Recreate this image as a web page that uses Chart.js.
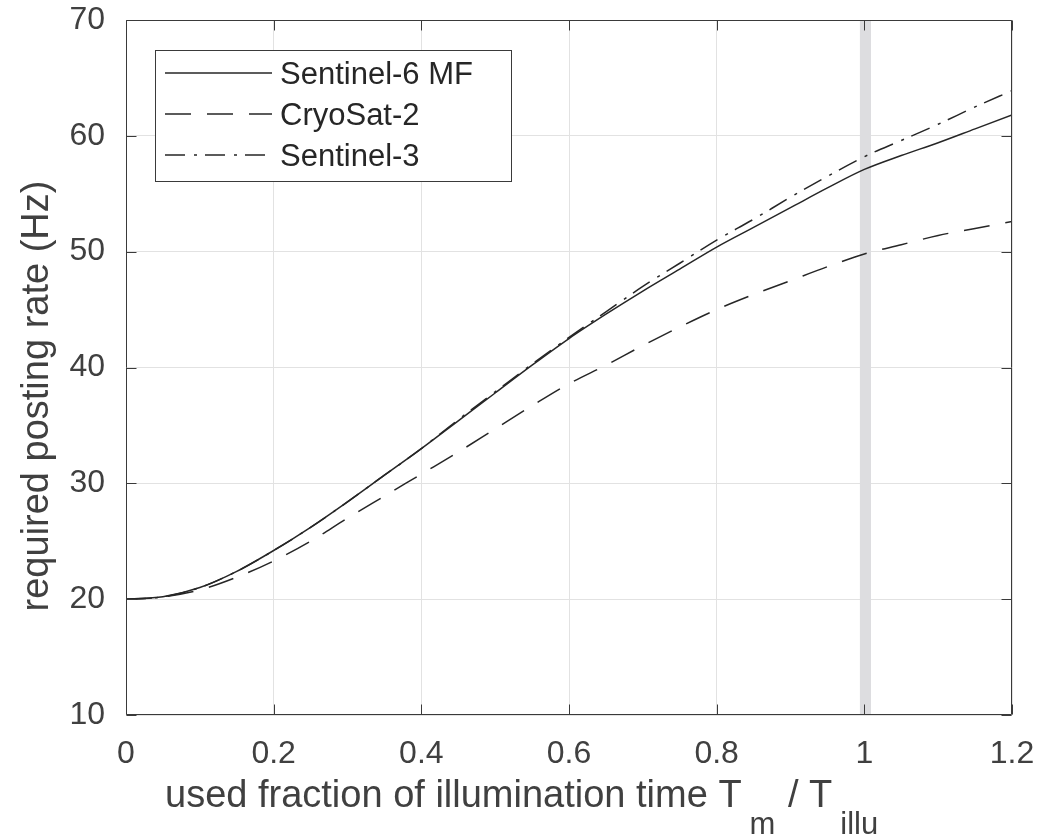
<!DOCTYPE html>
<html>
<head>
<meta charset="utf-8">
<title>Required posting rate</title>
<script src="https://cdn.jsdelivr.net/npm/chart.js@4.4.1/dist/chart.umd.min.js"></script>
<style>
  html, body { margin: 0; padding: 0; background: #ffffff; }
  #wrap { width: 1041px; height: 836px; }
</style>
</head>
<body>
<div id="wrap"><canvas id="c" width="1041" height="836"></canvas></div>
<script>
// Used fraction of illumination time (T_m / T_illu)
const fractions = [0, 0.05, 0.1, 0.15, 0.2, 0.25, 0.3, 0.35, 0.4, 0.45, 0.5, 0.55, 0.6,
                   0.65, 0.7, 0.75, 0.8, 0.85, 0.9, 0.95, 1.0, 1.05, 1.1, 1.15, 1.2];

// Required posting rate (Hz) per mission
const sentinel6 = [20.0, 20.2, 21.0, 22.4, 24.2, 26.2, 28.4, 30.7, 33.0, 35.4, 37.8, 40.2, 42.5,
                   44.6, 46.6, 48.5, 50.4, 52.1, 53.8, 55.5, 57.1, 58.3, 59.4, 60.6, 61.8];
const cryosat2  = [20.0, 20.2, 20.8, 21.9, 23.3, 25.0, 27.0, 28.9, 30.8, 32.7, 34.7, 36.7, 38.6,
                   40.2, 41.9, 43.5, 45.0, 46.3, 47.5, 48.7, 49.8, 50.6, 51.4, 52.0, 52.6];
const sentinel3 = [20.0, 20.2, 21.0, 22.4, 24.2, 26.2, 28.4, 30.7, 33.0, 35.5, 37.9, 40.3, 42.6,
                   44.8, 47.0, 49.0, 51.0, 52.8, 54.7, 56.5, 58.2, 59.6, 61.0, 62.5, 63.9];

const seriesNames = ['Sentinel-6 MF', 'CryoSat-2', 'Sentinel-3'];

const xTicks = [0, 0.2, 0.4, 0.6, 0.8, 1, 1.2];
const xTickLabels = ['0', '0.2', '0.4', '0.6', '0.8', '1', '1.2'];
const yTicks = [10, 20, 30, 40, 50, 60, 70];
const yTickLabels = ['10', '20', '30', '40', '50', '60', '70'];

// Shaded band marking T_m = T_illu
const illuminationBand = [0.994, 1.009];

const yTitle = 'required posting rate (Hz)';
// [text, isSubscript]
const xTitleParts = [['used fraction of illumination time T', false], ['m', true], [' / T', false], ['illu', true]];

const FONT = '"Liberation Sans", Arial, Helvetica, sans-serif';
const TEXT = '#404040';
const INK = '#262626';

const toPoints = ys => fractions.map((f, i) => ({ x: f, y: ys[i] }));

// keep the plot box at a fixed place: no extra room for overhanging tick labels
const noOverhang = s => { s.paddingLeft = 0; s.paddingRight = 0; s.paddingTop = 0; s.paddingBottom = 0; };

const boxPlugin = {
  id: 'matlabBox',
  beforeDatasetsDraw(chart) {
    const { ctx, chartArea: a, scales: { x } } = chart;
    const x0 = x.getPixelForValue(illuminationBand[0]);
    const x1 = x.getPixelForValue(illuminationBand[1]);
    ctx.save();
    ctx.fillStyle = '#dddde0';
    ctx.fillRect(x0, a.top, x1 - x0, a.bottom - a.top);
    ctx.restore();
  },
  afterDatasetsDraw(chart) {
    const { ctx, chartArea: a, scales: { x, y } } = chart;
    const L = Math.round(a.left) + 0.5, R = Math.round(a.right) - 0.5;
    const T = Math.round(a.top) + 0.5, B = Math.round(a.bottom) - 0.5;
    const tl = 10;
    ctx.save();
    ctx.strokeStyle = '#3a3a3a';
    ctx.lineWidth = 1;
    ctx.setLineDash([]);
    ctx.beginPath();
    ctx.rect(L, T, R - L, B - T);
    x.ticks.forEach(t => {
      const px = Math.round(x.getPixelForValue(t.value)) + 0.5;
      ctx.moveTo(px, B); ctx.lineTo(px, B - tl);
      ctx.moveTo(px, T); ctx.lineTo(px, T + tl);
    });
    y.ticks.forEach(t => {
      const py = Math.round(y.getPixelForValue(t.value)) + 0.5;
      ctx.moveTo(L, py); ctx.lineTo(L + tl, py);
      ctx.moveTo(R, py); ctx.lineTo(R - tl, py);
    });
    ctx.stroke();
    ctx.restore();
  },
  afterDraw(chart) {
    const { ctx } = chart;
    ctx.save();

    // legend
    ctx.fillStyle = '#ffffff';
    ctx.fillRect(155.5, 50.5, 356, 131);
    ctx.strokeStyle = '#3a3a3a';
    ctx.lineWidth = 1;
    ctx.strokeRect(155.5, 50.5, 356, 131);
    const rows = [73, 114, 155];
    chart.data.datasets.forEach((ds, i) => {
      ctx.strokeStyle = ds.borderColor;
      ctx.lineWidth = ds.borderWidth;
      ctx.setLineDash(ds.borderDash || []);
      ctx.beginPath();
      ctx.moveTo(165, rows[i]);
      ctx.lineTo(272, rows[i]);
      ctx.stroke();
      ctx.setLineDash([]);
      ctx.fillStyle = INK;
      ctx.font = '31px ' + FONT;
      ctx.textAlign = 'left';
      ctx.textBaseline = 'middle';
      ctx.fillText(ds.label, 280, rows[i] + 2);
    });

    // y axis title
    ctx.fillStyle = TEXT;
    ctx.font = '38px ' + FONT;
    ctx.save();
    ctx.translate(48, 396);
    ctx.rotate(-Math.PI / 2);
    ctx.textAlign = 'center';
    ctx.textBaseline = 'alphabetic';
    ctx.fillText(yTitle, 0, 0);
    ctx.restore();

    // x axis title with subscripts
    let cx = 165;
    const base = 807;
    ctx.textAlign = 'left';
    ctx.textBaseline = 'alphabetic';
    xTitleParts.forEach(([txt, sub]) => {
      ctx.font = (sub ? '31px ' : '38px ') + FONT;
      if (sub) cx += 8;
      ctx.fillText(txt, cx, sub ? base + 27 : base);
      cx += ctx.measureText(txt).width + (sub ? 2 : 0);
    });
    ctx.restore();
  }
};

new Chart(document.getElementById('c'), {
  type: 'line',
  data: {
    datasets: [
      { label: seriesNames[0], data: toPoints(sentinel6), borderColor: INK, borderWidth: 1.5, borderDash: [] },
      { label: seriesNames[1], data: toPoints(cryosat2), borderColor: INK, borderWidth: 1.5, borderDash: [26, 16] },
      { label: seriesNames[2], data: toPoints(sentinel3), borderColor: INK, borderWidth: 1.5, borderDash: [20, 9, 3, 8] }
    ]
  },
  options: {
    responsive: false,
    animation: false,
    devicePixelRatio: 1,
    layout: { padding: { left: 0, right: 29, top: 20, bottom: 0 } },
    elements: {
      point: { radius: 0, hoverRadius: 0 },
      line: { cubicInterpolationMode: 'monotone', fill: false }
    },
    plugins: { legend: { display: false }, tooltip: { enabled: false } },
    scales: {
      x: {
        type: 'linear', min: 0, max: 1.2,
        afterBuildTicks: s => { s.ticks = xTicks.map(v => ({ value: v })); },
        afterFit: s => { s.height = 121; noOverhang(s); },
        ticks: {
          callback: (v, i) => xTickLabels[i],
          font: { family: FONT, size: 32 }, color: TEXT,
          padding: 20, maxRotation: 0, autoSkip: false
        },
        grid: { color: '#e2e2e2', drawTicks: false },
        border: { display: false }
      },
      y: {
        type: 'linear', min: 10, max: 70,
        afterBuildTicks: s => { s.ticks = yTicks.map(v => ({ value: v })); },
        afterFit: s => { s.width = 126; noOverhang(s); },
        ticks: {
          callback: (v, i) => yTickLabels[i],
          font: { family: FONT, size: 32 }, color: TEXT,
          padding: 21, autoSkip: false
        },
        grid: { color: '#e2e2e2', drawTicks: false },
        border: { display: false }
      }
    }
  },
  plugins: [boxPlugin]
});
</script>
</body>
</html>
